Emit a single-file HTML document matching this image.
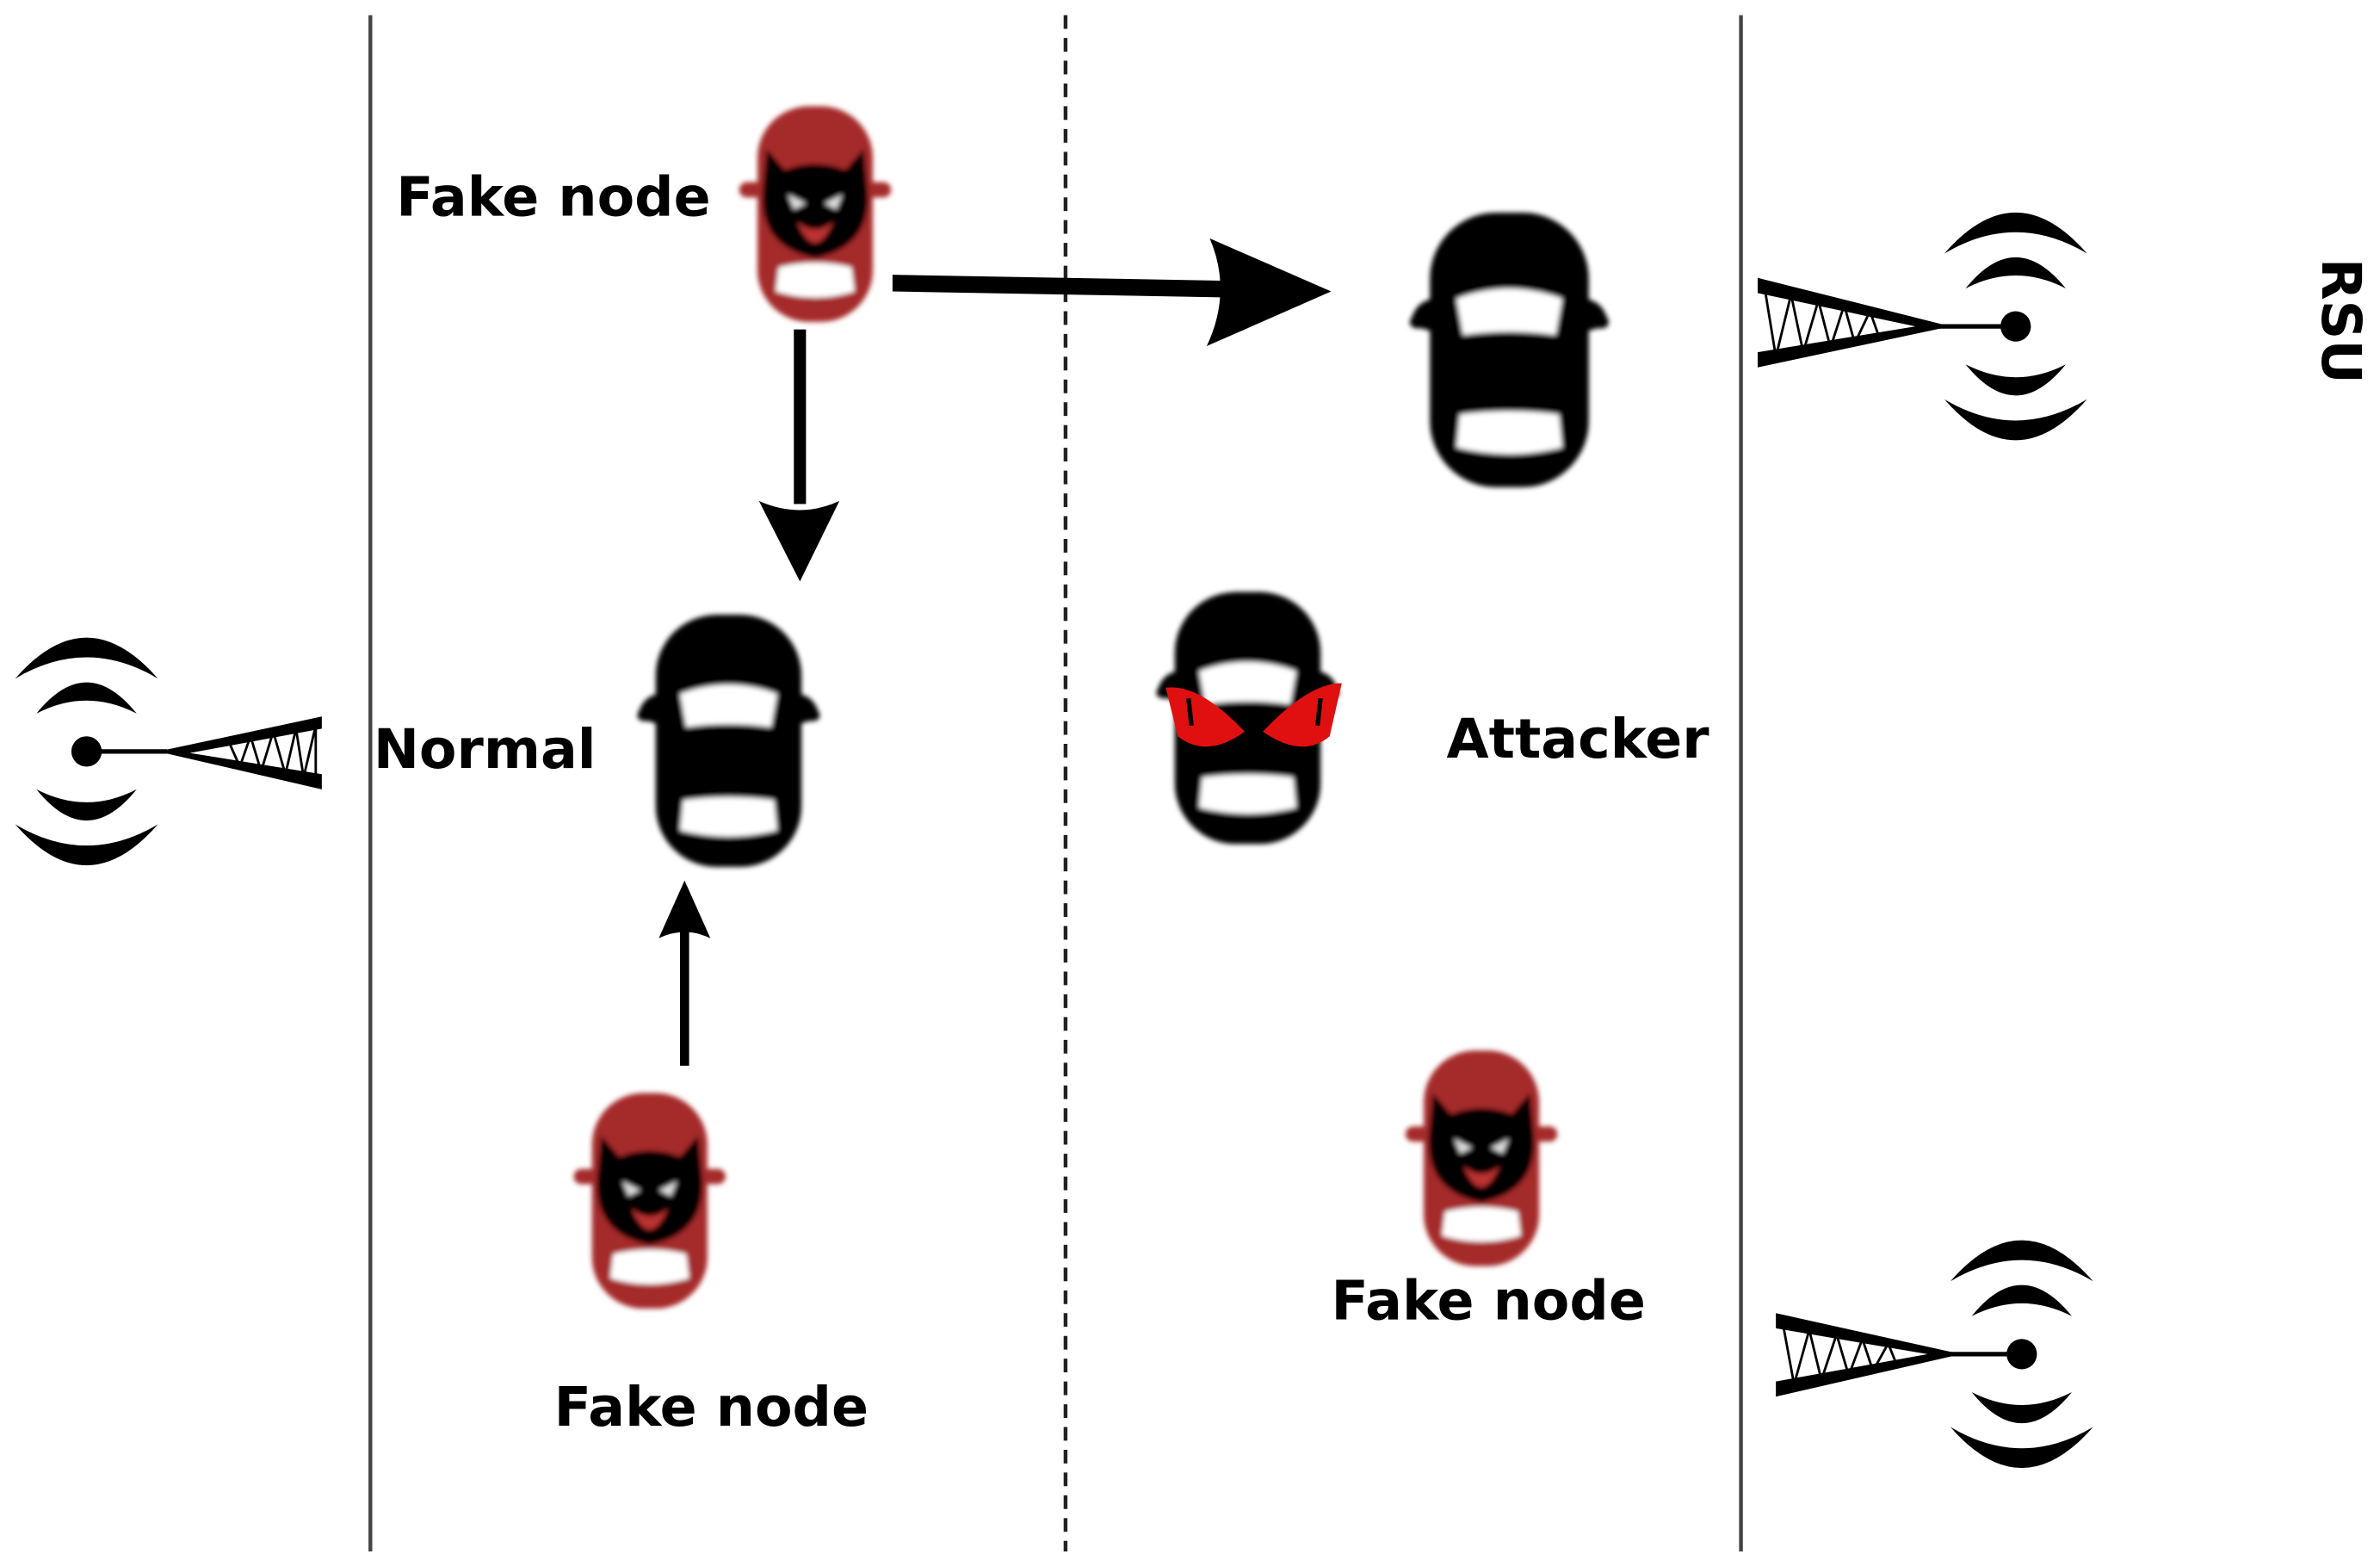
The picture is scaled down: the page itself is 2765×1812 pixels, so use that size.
<!DOCTYPE html>
<html><head><meta charset="utf-8"><style>
html,body{margin:0;padding:0;background:#fff}
svg{display:block}
text{font-family:"DejaVu Sans","Liberation Sans",sans-serif;font-weight:bold;fill:#000}
</style></head><body>
<svg width="2765" height="1812" viewBox="0 0 1568 1027.6" xmlns="http://www.w3.org/2000/svg">
<defs>
<filter id="bl" x="-20%" y="-20%" width="140%" height="140%"><feGaussianBlur stdDeviation="1.6"/></filter>
<g id="car">
  <rect x="12" y="0" width="96" height="166" rx="40"/>
  <path d="M0 68 Q2 54 14 52 L14 72 Z M120 68 Q118 54 106 52 L106 72 Z"/>
  <rect x="0" y="62" width="120" height="8" rx="4"/>
  <path d="M28 52 Q60 40 92 52 L88 74 Q60 70 32 74 Z" fill="#fff"/>
  <path d="M30 122 Q60 118 90 122 L92 142 Q60 150 28 142 Z" fill="#fff"/>
</g>
<g id="redcar">
  <rect x="12" y="0" width="76" height="142" rx="34" fill="#a52a2a"/>
  <rect x="0" y="50" width="100" height="10" rx="5" fill="#a52a2a"/>
  <path d="M26 106 Q50 100 74 106 L76 122 Q50 130 24 122 Z" fill="#fff"/>
  <path d="M16 50 L18 28 L30 42 Q50 34 70 42 L82 28 L84 50 Q90 92 50 100 Q10 92 16 50 Z" fill="#000"/>
  <path d="M32 58 L44 64 L36 68 Z M68 58 L56 64 L64 68 Z" fill="#ddd"/>
  <path d="M38 76 Q50 86 62 76 Q56 90 50 90 Q44 90 38 76 Z" fill="#b33"/>
</g>
<g id="waves">
  <path d="M-47 -48 Q0 -102 47 -48 Q0 -76 -47 -48 Z"/>
  <path d="M-33 -25 Q0 -66 33 -25 Q0 -42 -33 -25 Z"/>
  <path d="M-47 48 Q0 102 47 48 Q0 76 -47 48 Z"/>
  <path d="M-33 25 Q0 66 33 25 Q0 42 -33 25 Z"/>
  <circle cx="0" cy="0" r="10"/>
</g>
</defs>

<line x1="244" y1="10" x2="244" y2="1022" stroke="#444" stroke-width="2.5"/>
<line x1="702" y1="10" x2="702" y2="1022" stroke="#222" stroke-width="2.5" stroke-dasharray="9,6"/>
<line x1="1147" y1="10" x2="1147" y2="1022" stroke="#444" stroke-width="2.5"/>

<g transform="translate(57,495)"><use href="#waves"/></g>
<line x1="57" y1="495" x2="110" y2="495" stroke="#000" stroke-width="3"/>
<path d="M104 495 L212 472 L212 480 L125 496 L212 510 L212 520 Z"/>
<path d="M150 487 L158 505 L165 485 L172 508 L180 482 L188 510 L195 480 L200 512 L208 478 L208 515" fill="none" stroke="#000" stroke-width="1.6"/>

<g transform="translate(1328,215)"><use href="#waves"/></g>
<line x1="1328" y1="215" x2="1275" y2="215" stroke="#000" stroke-width="3"/>
<path d="M1285 215 L1158 183 L1158 193 L1262 215 L1158 232 L1158 242 Z"/>
<path d="M1163 192 L1170 235 L1180 194 L1188 232 L1198 198 L1206 229 L1215 201 L1222 226 L1232 205 L1238 222" fill="none" stroke="#000" stroke-width="1.6"/>

<g transform="translate(1332,892)"><use href="#waves"/></g>
<line x1="1332" y1="892" x2="1280" y2="892" stroke="#000" stroke-width="3"/>
<path d="M1292 892 L1170 865 L1170 875 L1270 892 L1170 910 L1170 920 Z"/>
<path d="M1175 874 L1182 912 L1192 876 L1200 909 L1210 879 L1218 906 L1227 882 L1234 903 L1244 885 L1250 900" fill="none" stroke="#000" stroke-width="1.6"/>

<g filter="url(#bl)">
<use href="#car" transform="translate(420,405)"/>
<use href="#car" transform="translate(929,140) scale(1.09)"/>
<use href="#car" transform="translate(762,390)"/>
<use href="#redcar" transform="translate(487,70)"/>
<use href="#redcar" transform="translate(378,720)"/>
<use href="#redcar" transform="translate(926,692)"/>
</g>
<path d="M768 453 Q790 450 820 482 Q795 500 776 485 Z" fill="#e01010"/>
<path d="M884 450 Q862 450 832 482 Q858 500 876 485 Z" fill="#e01010"/>
<path d="M783 460 L785 478 M870 460 L868 478" stroke="#000" stroke-width="3"/>

<path d="M588 181 L812 185 L812 196 L588 192 Z"/>
<path d="M797 157 L877 192 L795 228 Q812 192 797 157 Z"/>
<rect x="523" y="217" width="8" height="115"/>
<path d="M500 330 L527 383 L553 330 Q527 342 500 330 Z"/>
<rect x="448" y="612" width="6" height="90"/>
<path d="M434 618 L451 580 L468 618 Q451 610 434 618 Z"/>

<text x="261" y="142" font-size="36">Fake node</text>
<text x="246" y="506" font-size="36">Normal</text>
<text x="953" y="499" font-size="36">Attacker</text>
<text x="877" y="869" font-size="36">Fake node</text>
<text x="365" y="939" font-size="36">Fake node</text>
<text transform="translate(1530,170) rotate(90)" font-size="36">RSU</text>
</svg>
</body></html>
